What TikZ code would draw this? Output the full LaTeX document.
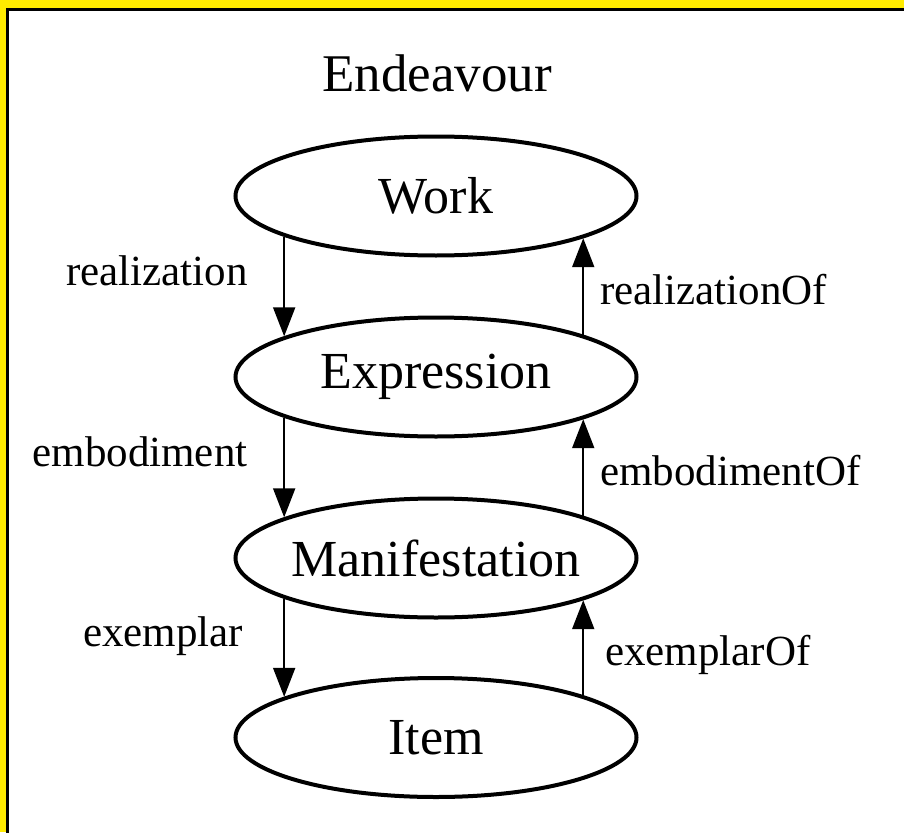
\documentclass[tikz,border=0pt]{standalone}
\usepackage{fontspec}
\setmainfont{Liberation Serif}
\usetikzlibrary{shapes.geometric,arrows.meta}
\definecolor{bgyellow}{RGB}{255,235,0}
\tikzset{
  entity/.style={ellipse, draw=black, line width=4pt, fill=white,
    minimum width=401pt, minimum height=119pt, inner sep=0pt,
    font=\fontsize{52}{60}\selectfont},
  rel/.style={-{Triangle[length=29pt,width=22pt]}, line width=2pt, black},
  rellabel/.style={font=\fontsize{43}{50}\selectfont, inner sep=0pt},
}
\newcommand{\zw}[1]{\makebox[0pt]{#1}}
\begin{document}
\begin{tikzpicture}[x=1pt,y=-1pt]
\useasboundingbox (0,0) rectangle (904,832);
\clip (0,0) rectangle (904,832);
\fill[bgyellow] (0,0) rectangle (904,832);
\draw[line width=3pt, fill=white] (7.5,9.5) rectangle (920,850);
\node[font=\fontsize{53}{61}\selectfont, anchor=base] (title) at (437,92) {Endeavour};
\node[entity] (work) at (436,196) {\zw{Work}};
\node[entity] (expr) at (436,377) {\zw{Expression}};
\node[entity] (manif) at (436,558) {\zw{Manifestation}};
\node[entity] (item) at (436,737.5) {\zw{Item}};
\draw[rel] (work.-165.5) -- (expr.165.5);
\draw[rel] (expr.16.4) -- (work.-16.4);
\draw[rel] (expr.-165.5) -- (manif.165.5);
\draw[rel] (manif.16.4) -- (expr.-16.4);
\draw[rel] (manif.-165.5) -- (item.165.5);
\draw[rel] (item.16.4) -- (manif.-16.4);
\node[rellabel, anchor=base] (l1) at (157,285) {realization};
\node[rellabel, anchor=base west] (l2) at (600,304) {realizationOf};
\node[rellabel, anchor=base] (l3) at (140,466) {embodiment};
\node[rellabel, anchor=base west] (l4) at (600,485) {embodimentOf};
\node[rellabel, anchor=base] (l5) at (163,646) {exemplar};
\node[rellabel, anchor=base west] (l6) at (605,665) {exemplarOf};
\end{tikzpicture}
\end{document}
